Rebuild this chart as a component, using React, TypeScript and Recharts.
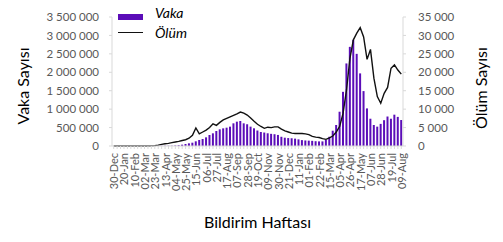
import React from 'react';
import { ComposedChart, Bar, Line, XAxis, YAxis, Legend } from 'recharts';

const weeks: string[] = [
  '30-Dec', '06-Jan', '13-Jan', '20-Jan', '27-Jan', '03-Feb', '10-Feb', '17-Feb', '24-Feb', '02-Mar',
  '09-Mar', '16-Mar', '23-Mar', '30-Mar', '06-Apr', '13-Apr', '20-Apr', '27-Apr', '04-May', '11-May',
  '18-May', '25-May', '01-Jun', '08-Jun', '15-Jun', '22-Jun', '29-Jun', '06-Jul', '13-Jul', '20-Jul',
  '27-Jul', '03-Aug', '10-Aug', '17-Aug', '24-Aug', '31-Aug', '07-Sep', '14-Sep', '21-Sep', '28-Sep',
  '05-Oct', '12-Oct', '19-Oct', '26-Oct', '02-Nov', '09-Nov', '16-Nov', '23-Nov', '30-Nov', '07-Dec',
  '14-Dec', '21-Dec', '28-Dec', '04-Jan', '11-Jan', '18-Jan', '25-Jan', '01-Feb', '08-Feb', '15-Feb',
  '22-Feb', '01-Mar', '08-Mar', '15-Mar', '22-Mar', '29-Mar', '05-Apr', '12-Apr', '19-Apr', '26-Apr',
  '03-May', '10-May', '17-May', '24-May', '31-May', '07-Jun', '14-Jun', '21-Jun', '28-Jun', '05-Jul',
  '12-Jul', '19-Jul', '26-Jul', '02-Aug', '09-Aug',
];

const vakaSayisi: number[] = [
  0, 0, 0, 0, 10, 20, 0, 0, 5, 60,
  200, 700, 2000, 4500, 6000, 7000, 7500, 8000, 14000, 22000,
  36000, 54000, 72000, 90000, 127000, 163000, 190000, 235000, 298000, 344000,
  407000, 452000, 479000, 497000, 525000, 615000, 660000, 678000, 615000, 590000,
  525000, 480000, 420000, 380000, 365000, 345000, 330000, 320000, 300000, 250000,
  225000, 215000, 210000, 200000, 180000, 160000, 150000, 145000, 140000, 130000,
  125000, 125000, 165000, 250000, 415000, 570000, 930000, 1470000, 2240000, 2690000,
  2880000, 2500000, 1970000, 1490000, 1020000, 740000, 570000, 525000, 600000, 700000,
  800000, 740000, 850000, 790000, 705000,
];

const olumSayisi: number[] = [
  0, 0, 0, 0, 0, 0, 0, 0, 0, 0,
  10, 30, 100, 250, 450, 600, 700, 900, 1100, 1250,
  1500, 1700, 2100, 2900, 4900, 3300, 3800, 4300, 5000, 6000,
  5600, 6400, 7100, 7500, 7900, 8300, 8700, 9200, 8900, 8400,
  7600, 6700, 5900, 5300, 4800, 5100, 5000, 5200, 5200, 4600,
  4100, 3800, 3500, 3400, 3400, 3400, 3300, 3100, 2600, 2400,
  2300, 2000, 1800, 2200, 2700, 3800, 5300, 8900, 15200, 23800,
  28800, 30600, 32100, 29600, 23500, 26200, 18400, 13400, 11600, 14300,
  15900, 21100, 22000, 20600, 19500,
];

const leftTicks: number[] = [0, 500000, 1000000, 1500000, 2000000, 2500000, 3000000, 3500000];
const rightTicks: number[] = [0, 5000, 10000, 15000, 20000, 25000, 30000, 35000];

const data = weeks.map((w, i) => ({ week: w, vaka: vakaSayisi[i], olum: olumSayisi[i] }));

const PURPLE = '#5B0DB8';
const TICK_COLOR = '#595959';
const AXIS_COLOR = '#d9d9d9';
const FONT = 'Lato, "Open Sans", sans-serif';

const fmt = (v: number) => String(v).replace(/\B(?=(\d{3})+(?!\d))/g, ' ');

const XTick = (props: any) => {
  const { x, y, payload } = props;
  const i = payload && typeof payload.index === 'number' ? payload.index : props.index;
  if (i % 3 !== 0) return <g />;
  return (
    <text
      x={x}
      y={y}
      transform={`rotate(-90 ${x} ${y})`}
      textAnchor="end"
      dominantBaseline="central"
      fill={TICK_COLOR}
      fontSize={11}
      fontFamily={FONT}
    >
      {payload.value}
    </text>
  );
};

const LeftTitle = () => (
  <text x={28.5} y={86} transform="rotate(-90 28.5 86)" textAnchor="middle" fontSize={16} fontFamily={FONT} fill="#000">
    Vaka Sayısı
  </text>
);

const RightTitle = () => (
  <text x={486.5} y={88} transform="rotate(-90 486.5 88)" textAnchor="middle" fontSize={16} fontFamily={FONT} fill="#000">
    Ölüm Sayısı
  </text>
);

const LegendContent = () => (
  <div style={{ position: 'relative', width: 100, height: 42, fontFamily: FONT, fontStyle: 'italic', fontSize: 14, color: '#000' }}>
    <div style={{ position: 'absolute', left: 0, top: 14, width: 25, height: 5.5, background: PURPLE }} />
    <span style={{ position: 'absolute', left: 37, top: 6, lineHeight: '14px', whiteSpace: 'nowrap' }}>Vaka</span>
    <div style={{ position: 'absolute', left: 0, top: 31.5, width: 25, height: 1.5, background: '#111' }} />
    <span style={{ position: 'absolute', left: 37, top: 26, lineHeight: '14px', whiteSpace: 'nowrap' }}>Ölüm</span>
  </div>
);

export default function App() {
  return (
    <div style={{ position: 'absolute', left: 0, top: 0, width: 503, height: 242, background: '#fff' }}>
      <ComposedChart
        width={503}
        height={242}
        data={data}
        margin={{ top: 17, right: 0, bottom: 0, left: 0 }}
        barCategoryGap="18%"
      >
        <XAxis
          dataKey="week"
          interval={0}
          tick={XTick}
          tickSize={3}
          tickMargin={4}
          axisLine={{ stroke: AXIS_COLOR }}
          tickLine={{ stroke: AXIS_COLOR }}
          height={96}
          label={{ value: 'Bildirim Haftası', position: 'insideBottom', offset: 14, fill: '#000', fontSize: 16, fontFamily: FONT }}
        />
        <YAxis
          yAxisId="left"
          width={112}
          domain={[0, 3500000]}
          ticks={leftTicks}
          interval={0}
          tickFormatter={fmt}
          tick={{ fill: TICK_COLOR, fontSize: 11.5, fontFamily: FONT }}
          tickSize={3}
          tickMargin={10}
          axisLine={{ stroke: AXIS_COLOR }}
          tickLine={{ stroke: AXIS_COLOR }}
          label={{ content: LeftTitle }}
        />
        <YAxis
          yAxisId="right"
          orientation="right"
          width={100}
          domain={[0, 35000]}
          ticks={rightTicks}
          interval={0}
          tickFormatter={fmt}
          tick={{ fill: TICK_COLOR, fontSize: 11.5, fontFamily: FONT }}
          tickSize={3}
          tickMargin={12}
          axisLine={{ stroke: AXIS_COLOR }}
          tickLine={{ stroke: AXIS_COLOR }}
          label={{ content: RightTitle }}
        />
        <Legend
          layout="vertical"
          align="center"
          verticalAlign="middle"
          content={LegendContent}
          wrapperStyle={{ left: 118, top: 0, width: 100, height: 42 }}
        />
        <Bar dataKey="vaka" name="Vaka" yAxisId="left" fill={PURPLE} isAnimationActive={false} />
        <Line
          dataKey="olum"
          name="Ölüm"
          yAxisId="right"
          type="linear"
          stroke="#111"
          strokeWidth={1.4}
          dot={false}
          isAnimationActive={false}
        />
      </ComposedChart>
    </div>
  );
}
